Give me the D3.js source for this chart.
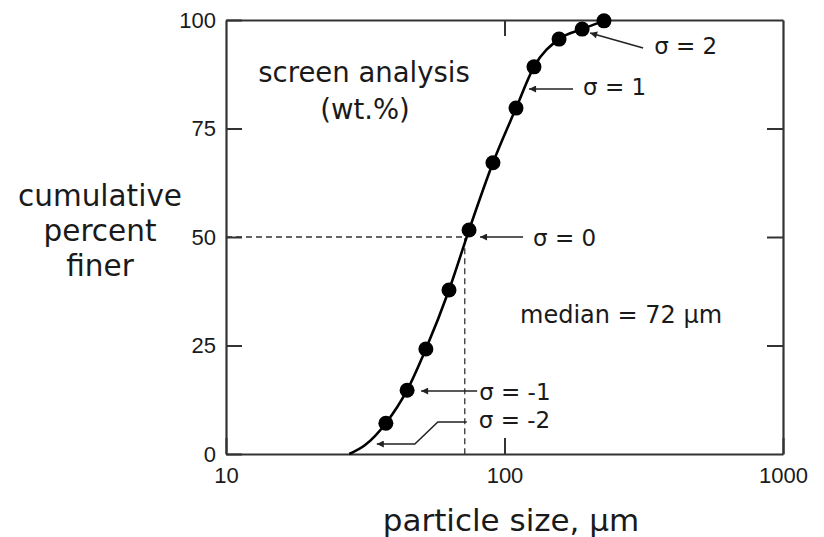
<!DOCTYPE html>
<html>
<head>
<meta charset="utf-8">
<script src="https://cdn.jsdelivr.net/npm/d3@7"></script>
<style>
  body { margin: 0; background: #fff; }
  svg { display: block; }
</style>
</head>
<body>
<svg id="chart" width="824" height="537"></svg>
<script>
// screen analysis points (particle size in um, cumulative % finer)
const sieveSize = [37.5, 44.7, 52.2, 63.2, 74.6, 90.9, 110, 127.6, 157, 190, 227.6];
const cumPct = [7.1, 14.7, 24.2, 37.8, 51.6, 67.1, 79.7, 89.2, 95.6, 97.9, 99.8];

// smooth curve, starts at zero then goes through the points
const curveSize = [27.7, 31.5].concat(sieveSize);
const curvePct = [0, 2.0].concat(cumPct);

const xTicks = [10, 100, 1000];
const yTicks = [0, 25, 50, 75, 100];
const medianSize = 72;

const sigmaLabels = ['σ = 2', 'σ = 1', 'σ = 0', 'σ = -1', 'σ = -2'];
const sigmaTipSize = [203, 122.5, 81.7, 50.2, 34.8];
const sigmaTipPct = [97.0, 84.1, 50, 14.5, 2.3];

const ink = '#1a1a1a';
const frame = '#333';

const svg = d3.select('#chart');

const x = d3.scaleLog().domain([10, 1000]).range([226, 783]);
const y = d3.scaleLinear().domain([0, 100]).range([454, 20]);

svg.append('defs').append('marker')
  .attr('id', 'head')
  .attr('viewBox', '0 0 10 10')
  .attr('refX', 10).attr('refY', 5)
  .attr('markerWidth', 10).attr('markerHeight', 7)
  .attr('markerUnits', 'userSpaceOnUse')
  .attr('orient', 'auto-start-reverse')
  .append('path')
  .attr('d', 'M0,0 L10,5 L0,10 Z')
  .style('fill', '#222');

// dashed median guides
svg.append('path')
  .attr('d', `M${x(10)},${y(50)} H${x(medianSize)} V${y(0)}`)
  .style('fill', 'none')
  .style('stroke', '#333')
  .style('stroke-width', 1.3)
  .style('stroke-dasharray', '6,4');

// axes with inward ticks
const tickFont = 'Liberation Sans, Arial, sans-serif';

const leftAxis = svg.append('g')
  .attr('transform', `translate(${x(10)},0)`)
  .call(d3.axisLeft(y).tickValues(yTicks).tickSizeInner(-16).tickSizeOuter(0).tickPadding(10));

const bottomAxis = svg.append('g')
  .attr('transform', `translate(0,${y(0)})`)
  .call(d3.axisBottom(x).tickValues(xTicks).tickFormat(d3.format('d')).tickSizeInner(-16).tickSizeOuter(0).tickPadding(13));

const rightAxis = svg.append('g')
  .attr('transform', `translate(${x(1000)},0)`)
  .call(d3.axisRight(y).tickValues([25, 50, 75]).tickSizeInner(-16).tickSizeOuter(0).tickFormat(''));

const topAxis = svg.append('g')
  .attr('transform', `translate(0,${y(100)})`)
  .call(d3.axisTop(x).tickValues([100]).tickSizeInner(-16).tickSizeOuter(0).tickFormat(''));

[leftAxis, bottomAxis, rightAxis, topAxis].forEach(g => {
  g.select('.domain').style('stroke', frame).style('stroke-width', 2.2);
  g.selectAll('.tick line').style('stroke', frame).style('stroke-width', 2);
  g.selectAll('.tick text')
    .style('font-family', tickFont)
    .style('font-size', '22px')
    .style('fill', ink);
});

// curve + points
const line = d3.line()
  .x((d, i) => x(curveSize[i]))
  .y((d, i) => y(curvePct[i]))
  .curve(d3.curveMonotoneX);

svg.append('path')
  .attr('d', line(curvePct))
  .style('fill', 'none')
  .style('stroke', '#000')
  .style('stroke-width', 2.6);

svg.selectAll('.dot')
  .data(sieveSize)
  .enter()
  .append('circle')
  .classed('dot', true)
  .attr('cx', d => x(d))
  .attr('cy', (d, i) => y(cumPct[i]))
  .attr('r', 7.5)
  .style('fill', '#000');

// sigma annotations: arrow path offsets from the tip, then text offset
const arrowOffsets = [
  [[53, 15]],
  [[44, 0]],
  [[43, 0]],
  [[56, 0]],
  [[38, 0], [61, -22], [90, -22]]
];
const textOffsets = [[64, 21], [54, 6], [53, 9], [58, 9], [102, -16]];

const labelFont = 'DejaVu Sans, sans-serif';

sigmaLabels.forEach((label, i) => {
  const tx = x(sigmaTipSize[i]);
  const ty = y(sigmaTipPct[i]);
  const pts = [[0, 0]].concat(arrowOffsets[i]).reverse();
  svg.append('path')
    .attr('d', d3.line()(pts.map(p => [tx + p[0], ty + p[1]])))
    .attr('marker-end', 'url(#head)')
    .style('fill', 'none')
    .style('stroke', '#222')
    .style('stroke-width', 1.5);
  svg.append('text')
    .attr('x', tx + textOffsets[i][0])
    .attr('y', ty + textOffsets[i][1])
    .text(label)
    .style('font-family', labelFont)
    .style('font-size', '23px')
    .style('fill', ink);
});

// text blocks
const texts = [
  { t: 'screen analysis', x: 364, y: 82, size: 27.5, anchor: 'middle' },
  { t: '(wt.%)', x: 365, y: 119, size: 27.5, anchor: 'middle' },
  { t: 'median = 72 μm', x: 520, y: 323, size: 24, anchor: 'start' },
  { t: 'cumulative', x: 100, y: 206, size: 29.5, anchor: 'middle' },
  { t: 'percent', x: 100, y: 241, size: 29.5, anchor: 'middle' },
  { t: 'finer', x: 100, y: 276, size: 29.5, anchor: 'middle' },
  { t: 'particle size, μm', x: 511, y: 531, size: 31, anchor: 'middle' }
];

svg.selectAll('.label')
  .data(texts)
  .enter()
  .append('text')
  .classed('label', true)
  .attr('x', d => d.x)
  .attr('y', d => d.y)
  .attr('text-anchor', d => d.anchor)
  .text(d => d.t)
  .style('font-family', labelFont)
  .style('font-size', d => d.size + 'px')
  .style('fill', ink);
</script>
</body>
</html>
